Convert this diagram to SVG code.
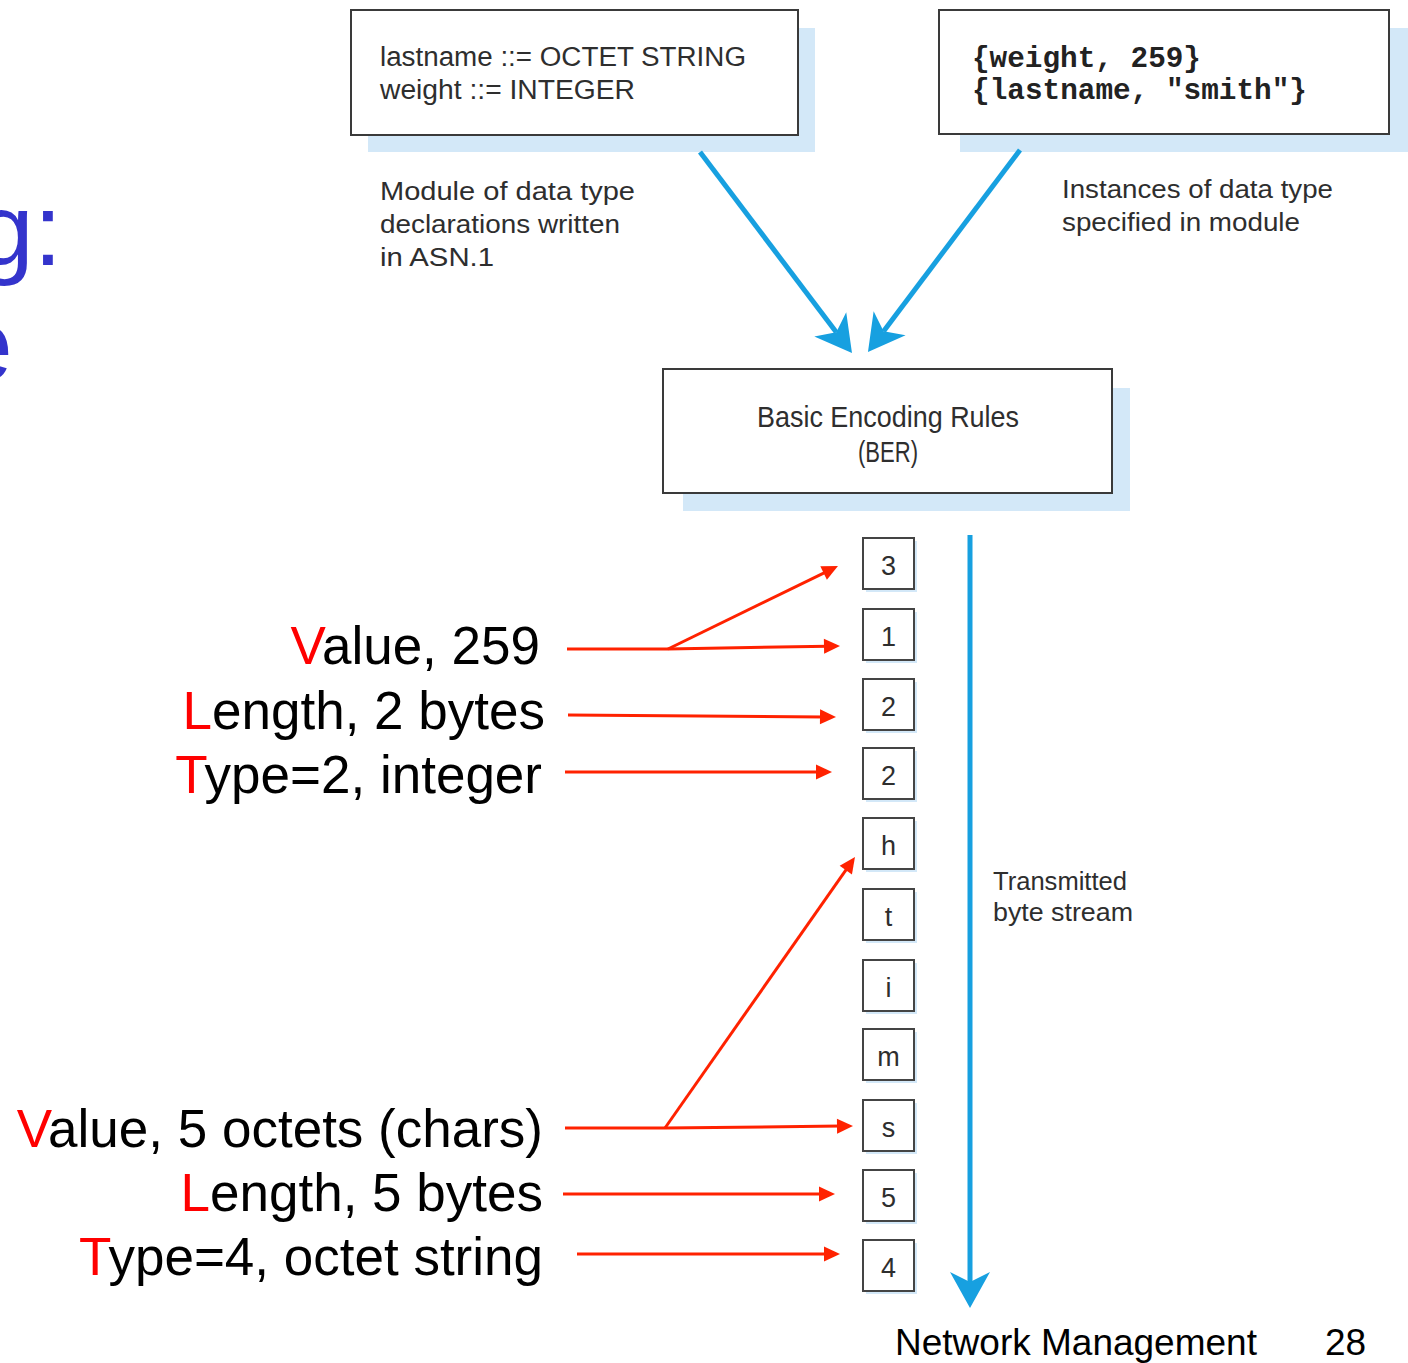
<svg xmlns="http://www.w3.org/2000/svg" width="1408" height="1363" viewBox="0 0 1408 1363">
  <style>
    .shadow { fill: #d3e8f8; }
    .box { fill: #ffffff; stroke: #3a3a3a; stroke-width: 2; }
    .byte { fill: #ffffff; stroke: #444444; stroke-width: 2; }
    .fig { font-family: "Liberation Sans", Arial, sans-serif; fill: #2e2e2e; }
    .mono { font-family: "Liberation Mono", "Courier New", monospace; font-weight: bold; fill: #222222; }
    .lbl { font-family: "Liberation Sans", Arial, sans-serif; font-size: 53px; fill: #000000; text-anchor: end; }
    .red { fill: #ff0000; }
    .title { font-family: "Liberation Sans", Arial, sans-serif; font-size: 102px; fill: #3434cc; }
    .foot { font-family: "Liberation Sans", Arial, sans-serif; font-size: 37px; fill: #000000; }
    .flow { fill: none; stroke: #17a0e0; stroke-width: 5; }
    .tag { fill: none; stroke: #ff2200; stroke-width: 3; }
  </style>
  <defs>
    <marker id="blueHead" markerUnits="userSpaceOnUse" markerWidth="60" markerHeight="60" viewBox="-20 -30 60 60" refX="0" refY="0" orient="auto">
      <path d="M26,0 L-10,-20 L0,0 L-10,20 Z" fill="#17a0e0"/>
    </marker>
    <marker id="redHead" markerUnits="userSpaceOnUse" markerWidth="30" markerHeight="30" viewBox="-10 -15 30 30" refX="0" refY="0" orient="auto">
      <path d="M12,0 L-4,-7.5 L-4,7.5 Z" fill="#ff2200"/>
    </marker>
  </defs>

  <rect width="1408" height="1363" fill="#ffffff"/>

  <!-- slide title fragments at the left edge -->
  <text class="title" x="-23" y="265">g:</text>
  <text class="title" x="-44" y="380">e</text>

  <!-- ASN.1 module -->
  <g id="module">
    <rect class="shadow" x="368" y="28" width="447" height="124"/>
    <rect class="box" x="351" y="10" width="447" height="125"/>
    <text class="fig" x="380" y="66" font-size="27" textLength="366" lengthAdjust="spacingAndGlyphs">lastname ::= OCTET STRING</text>
    <text class="fig" x="380" y="99" font-size="27" textLength="255" lengthAdjust="spacingAndGlyphs">weight ::= INTEGER</text>
  </g>
  <g id="module-caption">
    <text class="fig" x="380" y="200" font-size="25" textLength="255" lengthAdjust="spacingAndGlyphs">Module of data type</text>
    <text class="fig" x="380" y="233" font-size="25" textLength="240" lengthAdjust="spacingAndGlyphs">declarations written</text>
    <text class="fig" x="380" y="266" font-size="25" textLength="114" lengthAdjust="spacingAndGlyphs">in ASN.1</text>
  </g>

  <!-- instances -->
  <g id="instances">
    <rect class="shadow" x="960" y="28" width="452" height="124"/>
    <rect class="box" x="939" y="10" width="450" height="124"/>
    <text class="mono" x="972" y="67" font-size="29" textLength="229" lengthAdjust="spacingAndGlyphs">{weight, 259}</text>
    <text class="mono" x="972" y="99" font-size="29" textLength="335" lengthAdjust="spacingAndGlyphs">{lastname, "smith"}</text>
  </g>
  <g id="instances-caption">
    <text class="fig" x="1062" y="198" font-size="25" textLength="271" lengthAdjust="spacingAndGlyphs">Instances of data type</text>
    <text class="fig" x="1062" y="231" font-size="25" textLength="238" lengthAdjust="spacingAndGlyphs">specified in module</text>
  </g>

  <!-- encoder -->
  <g id="ber">
    <rect class="shadow" x="683" y="388" width="447" height="123"/>
    <rect class="box" x="663" y="369" width="449" height="124"/>
    <text class="fig" x="888" y="427" font-size="29" text-anchor="middle" textLength="262" lengthAdjust="spacingAndGlyphs">Basic Encoding Rules</text>
    <text class="fig" x="888" y="462" font-size="29" text-anchor="middle" textLength="60" lengthAdjust="spacingAndGlyphs">(BER)</text>
  </g>

  <!-- encoded bytes, first transmitted at the bottom -->
  <g id="byte-3"><rect class="shadow" x="866" y="541" width="51" height="51"/><rect class="byte" x="863" y="538" width="51" height="51"/><text class="fig" x="888.5" y="575" font-size="27" text-anchor="middle">3</text></g>
  <g id="byte-1"><rect class="shadow" x="866" y="612" width="51" height="51"/><rect class="byte" x="863" y="609" width="51" height="51"/><text class="fig" x="888.5" y="646" font-size="27" text-anchor="middle">1</text></g>
  <g id="byte-2a"><rect class="shadow" x="866" y="682" width="51" height="51"/><rect class="byte" x="863" y="679" width="51" height="51"/><text class="fig" x="888.5" y="716" font-size="27" text-anchor="middle">2</text></g>
  <g id="byte-2b"><rect class="shadow" x="866" y="751" width="51" height="51"/><rect class="byte" x="863" y="748" width="51" height="51"/><text class="fig" x="888.5" y="785" font-size="27" text-anchor="middle">2</text></g>
  <g id="byte-h"><rect class="shadow" x="866" y="821" width="51" height="51"/><rect class="byte" x="863" y="818" width="51" height="51"/><text class="fig" x="888.5" y="855" font-size="27" text-anchor="middle">h</text></g>
  <g id="byte-t"><rect class="shadow" x="866" y="892" width="51" height="51"/><rect class="byte" x="863" y="889" width="51" height="51"/><text class="fig" x="888.5" y="926" font-size="27" text-anchor="middle">t</text></g>
  <g id="byte-i"><rect class="shadow" x="866" y="963" width="51" height="51"/><rect class="byte" x="863" y="960" width="51" height="51"/><text class="fig" x="888.5" y="997" font-size="27" text-anchor="middle">i</text></g>
  <g id="byte-m"><rect class="shadow" x="866" y="1032" width="51" height="51"/><rect class="byte" x="863" y="1029" width="51" height="51"/><text class="fig" x="888.5" y="1066" font-size="27" text-anchor="middle">m</text></g>
  <g id="byte-s"><rect class="shadow" x="866" y="1103" width="51" height="51"/><rect class="byte" x="863" y="1100" width="51" height="51"/><text class="fig" x="888.5" y="1137" font-size="27" text-anchor="middle">s</text></g>
  <g id="byte-5"><rect class="shadow" x="866" y="1173" width="51" height="51"/><rect class="byte" x="863" y="1170" width="51" height="51"/><text class="fig" x="888.5" y="1207" font-size="27" text-anchor="middle">5</text></g>
  <g id="byte-4"><rect class="shadow" x="866" y="1243" width="51" height="51"/><rect class="byte" x="863" y="1240" width="51" height="51"/><text class="fig" x="888.5" y="1277" font-size="27" text-anchor="middle">4</text></g>

  <g id="stream-caption">
    <text class="fig" x="993" y="890" font-size="25" textLength="134" lengthAdjust="spacingAndGlyphs">Transmitted</text>
    <text class="fig" x="993" y="921" font-size="25" textLength="140" lengthAdjust="spacingAndGlyphs">byte stream</text>
  </g>

  <!-- TLV field labels -->
  <g id="tlv-integer">
    <text class="lbl" x="540" y="664"><tspan class="red">V</tspan>alue, 259</text>
    <text class="lbl" x="545" y="729"><tspan class="red">L</tspan>ength, 2 bytes</text>
    <text class="lbl" x="542" y="793"><tspan class="red">T</tspan>ype=2, integer</text>
  </g>
  <g id="tlv-string">
    <text class="lbl" x="543" y="1147"><tspan class="red">V</tspan>alue, 5 octets (chars)</text>
    <text class="lbl" x="543" y="1211"><tspan class="red">L</tspan>ength, 5 bytes</text>
    <text class="lbl" x="543" y="1275"><tspan class="red">T</tspan>ype=4, octet string</text>
  </g>

  <g id="connectors">
    <!-- module and instances feed the encoder -->
    <path class="flow" d="M700,152 L836.3,332.3" marker-end="url(#blueHead)"/>
    <path class="flow" d="M1020,150 L883.6,331.2" marker-end="url(#blueHead)"/>
    <!-- transmitted stream direction -->
    <path class="flow" d="M970,535 L970,1282" marker-end="url(#blueHead)"/>

    <!-- field pointers -->
    <path class="tag" d="M567,649 L668,649 L828,646.2" marker-end="url(#redHead)"/>
    <path class="tag" d="M668,649 L827.2,571.3" marker-end="url(#redHead)"/>
    <path class="tag" d="M568,715 L824,716.9" marker-end="url(#redHead)"/>
    <path class="tag" d="M565,772 L820,772" marker-end="url(#redHead)"/>
    <path class="tag" d="M565,1128 L665,1128 L841,1126.1" marker-end="url(#redHead)"/>
    <path class="tag" d="M665,1128 L848.1,866.8" marker-end="url(#redHead)"/>
    <path class="tag" d="M563,1194 L823,1194" marker-end="url(#redHead)"/>
    <path class="tag" d="M577,1254 L828,1254" marker-end="url(#redHead)"/>
  </g>

  <!-- footer -->
  <text class="foot" x="895" y="1355">Network Management</text>
  <text class="foot" x="1325" y="1355">28</text>
</svg>
